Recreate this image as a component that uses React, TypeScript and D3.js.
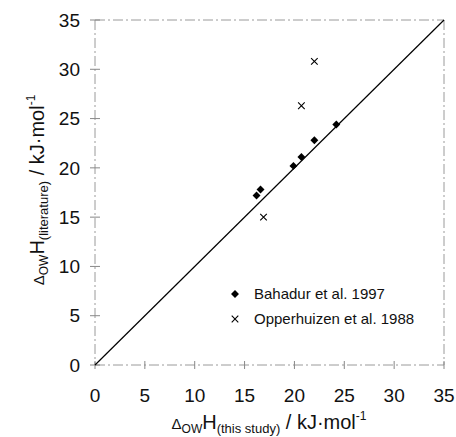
import React from "react";
import * as d3 from "d3";

// values (kJ/mol)
const bahadurX = [16.2, 16.6, 19.9, 20.7, 22.0, 24.2];
const bahadurY = [17.2, 17.8, 20.2, 21.1, 22.8, 24.4];
const opperX = [16.9, 20.7, 22.0];
const opperY = [15.0, 26.3, 30.8];
const ticks = [0, 5, 10, 15, 20, 25, 30, 35];
const legendLabels = ["Bahadur et al. 1997", "Opperhuizen et al. 1988"];

const W = 456;
const H = 437;
const margin = { left: 95, right: 12, top: 20, bottom: 72 };
const font = "Liberation Sans, Arial, sans-serif";

const App = () => {
  const x = d3.scaleLinear().domain([0, 35]).range([margin.left, W - margin.right]);
  const y = d3.scaleLinear().domain([0, 35]).range([H - margin.bottom, margin.top]);

  const diamond = d3.symbol().type(d3.symbolDiamond2).size(40)();
  const cross = d3.symbol().type(d3.symbolX).size(30)();
  const diag = d3.line<number>().x((d) => x(d)).y((d) => y(d))([0, 35]);

  const frameStyle = { stroke: "#9a9a9a", strokeWidth: 1, strokeDasharray: "10,3,2,3", fill: "none" };

  return (
    <div style={{ position: "fixed", left: 0, top: 0 }}>
      <svg width={W} height={H} style={{ display: "block", background: "#fff" }}>
        {/* frame, faint like the scanned original */}
        <line x1={x(0)} x2={x(35)} y1={y(35)} y2={y(35)} style={frameStyle} />
        <line x1={x(35)} x2={x(35)} y1={y(35)} y2={y(0)} style={frameStyle} />
        <line x1={x(0)} x2={x(35)} y1={y(0)} y2={y(0)} style={frameStyle} />
        <line x1={x(0)} x2={x(0)} y1={y(35)} y2={y(0)} style={frameStyle} />

        {/* ticks and labels */}
        {ticks.map((t) => (
          <g key={"x" + t}>
            <line x1={x(t)} x2={x(t)} y1={y(0) - 4} y2={y(0) + 4} stroke="#888" />
            <text x={x(t)} y={y(0) + 37} textAnchor="middle" fontFamily={font} fontSize={19} fill="#111">
              {t}
            </text>
          </g>
        ))}
        {ticks.map((t) => (
          <g key={"y" + t}>
            <line x1={x(0) - 5} x2={x(0) + 5} y1={y(t)} y2={y(t)} stroke="#888" />
            <text x={x(0) - 15} y={y(t)} dy="0.35em" textAnchor="end" fontFamily={font} fontSize={19} fill="#111">
              {t}
            </text>
          </g>
        ))}

        {/* 1:1 line */}
        <path d={diag || ""} stroke="#000" strokeWidth={1.2} fill="none" />

        {bahadurX.map((v, i) => (
          <path key={"b" + i} d={diamond || ""} transform={`translate(${x(v)},${y(bahadurY[i])})`} fill="#000" />
        ))}
        {opperX.map((v, i) => (
          <path key={"o" + i} d={cross || ""} transform={`translate(${x(v)},${y(opperY[i])})`} fill="none" stroke="#000" strokeWidth={1.1} />
        ))}

        {/* legend */}
        <g fontFamily={font} fontSize={15} fill="#111">
          <path d={diamond || ""} transform="translate(235,294)" fill="#000" />
          <text x={254} y={294} dy="0.35em">{legendLabels[0]}</text>
          <path d={cross || ""} transform="translate(235,319)" fill="none" stroke="#000" strokeWidth={1.1} />
          <text x={254} y={319} dy="0.35em">{legendLabels[1]}</text>
        </g>

        {/* axis titles */}
        <text x={269} y={429} textAnchor="middle" fontFamily={font} fill="#111" fontSize={20}>
          <tspan fontSize={15}>Δ</tspan>
          <tspan fontSize={12} dy={4}>OW</tspan>
          <tspan dy={-4}>H</tspan>
          <tspan fontSize={13} dy={4}>(this study)</tspan>
          <tspan dy={-4}> / kJ·mol</tspan>
          <tspan fontSize={12} dy={-9}>-1</tspan>
        </text>
        <text
          transform="translate(44,190) rotate(-90)"
          textAnchor="middle"
          fontFamily={font}
          fill="#111"
          fontSize={20}
        >
          <tspan fontSize={15}>Δ</tspan>
          <tspan fontSize={12} dy={4}>OW</tspan>
          <tspan dy={-4}>H</tspan>
          <tspan fontSize={13} dy={4}>(literature)</tspan>
          <tspan dy={-4}> / kJ·mol</tspan>
          <tspan fontSize={12} dy={-9}>-1</tspan>
        </text>
      </svg>
    </div>
  );
};

export default App;
